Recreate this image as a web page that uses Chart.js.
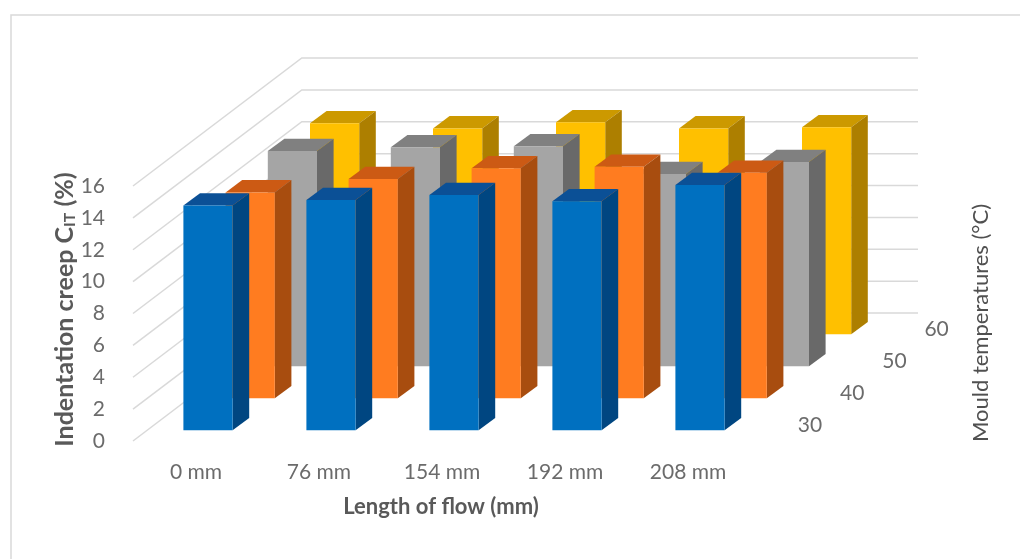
<!DOCTYPE html>
<html>
<head>
<meta charset="utf-8">
<title>Indentation creep</title>
<script src="https://cdn.jsdelivr.net/npm/chart.js@4"></script>
<style>
	html, body { margin: 0; padding: 0; background: #fff; }
	canvas { display: block; }
</style>
</head>
<body>
<canvas id="myChart" width="1020" height="559"></canvas>
<script>
const flowLengths = ["0 mm", "76 mm", "154 mm", "192 mm", "208 mm"];
const mouldTemps = ["30", "40", "50", "60"];
const creep30 = [14.1, 14.45, 14.76, 14.37, 15.39];
const creep40 = [12.92, 13.76, 14.43, 14.53, 14.15];
const creep50 = [13.51, 13.74, 13.8, 12.07, 12.82];
const creep60 = [13.24, 12.92, 13.3, 12.92, 12.99];

const faceColors = ["#0070c0", "#ff7c20", "#a5a5a5", "#ffc000"];
const topColors = ["#0b5096", "#cc5a14", "#808080", "#cc9900"];
const sideColors = ["#004681", "#a84d0f", "#696969", "#ad7f00"];

// fake 3D: every series sits one step further back, bars get a top and a side face
const depthX = 42.2;
const depthY = -32;
const baseLift = -10.7;
const barDepthX = 16.6;
const barDepthY = -12.3;
const wallLeft = 133;
const wallRight = 918;

const font = "Lato";
const gridColor = "#d9d9d9";

function seriesShift(i) {
	return { x: i * depthX, y: baseLift + i * depthY };
}

const pseudo3d = {
	id: "pseudo3d",
	beforeDraw(chart) {
		const ctx = chart.ctx;
		ctx.save();
		ctx.fillStyle = "#fff";
		ctx.fillRect(0, 0, chart.width, chart.height);
		// frame around the figure, only top and left are visible
		ctx.strokeStyle = gridColor;
		ctx.lineWidth = 1.5;
		ctx.beginPath();
		ctx.moveTo(11, chart.height);
		ctx.lineTo(11, 15);
		ctx.lineTo(chart.width, 15);
		ctx.stroke();
		ctx.restore();
	},
	beforeDatasetsDraw(chart) {
		// grid runs back along the left wall and then across the back wall
		const ctx = chart.ctx;
		const yScale = chart.scales.y;
		const backX = wallLeft + mouldTemps.length * depthX;
		const backY = mouldTemps.length * depthY;
		ctx.save();
		ctx.strokeStyle = gridColor;
		ctx.lineWidth = 1.5;
		yScale.ticks.forEach((tick) => {
			const y = yScale.getPixelForValue(tick.value);
			ctx.beginPath();
			ctx.moveTo(wallLeft, y);
			ctx.lineTo(backX, y + backY);
			ctx.lineTo(wallRight, y + backY);
			ctx.stroke();
		});
		ctx.restore();
	},
	beforeDatasetDraw(chart, args) {
		const ctx = chart.ctx;
		const i = args.index;
		const shift = seriesShift(i);
		ctx.save();
		ctx.translate(shift.x, shift.y);
		args.meta.data.forEach((bar) => {
			const p = bar.getProps(["x", "y", "base", "width"], true);
			const l = p.x - p.width / 2;
			const r = p.x + p.width / 2;
			ctx.fillStyle = topColors[i];
			ctx.beginPath();
			ctx.moveTo(l, p.y);
			ctx.lineTo(l + barDepthX, p.y + barDepthY);
			ctx.lineTo(r + barDepthX, p.y + barDepthY);
			ctx.lineTo(r, p.y);
			ctx.closePath();
			ctx.fill();
			ctx.fillStyle = sideColors[i];
			ctx.beginPath();
			ctx.moveTo(r, p.y);
			ctx.lineTo(r + barDepthX, p.y + barDepthY);
			ctx.lineTo(r + barDepthX, p.base + barDepthY);
			ctx.lineTo(r, p.base);
			ctx.closePath();
			ctx.fill();
		});
	},
	afterDatasetDraw(chart) {
		chart.ctx.restore();
	},
	afterDraw(chart) {
		const ctx = chart.ctx;
		ctx.save();
		ctx.textBaseline = "middle";

		// depth axis labels
		ctx.fillStyle = "#6b6b6b";
		ctx.textAlign = "center";
		ctx.font = `21px ${font}`;
		mouldTemps.forEach((t, i) => {
			ctx.fillText(t, 810 + i * depthX, 425 + i * depthY);
		});

		// x title
		ctx.fillStyle = "#595959";
		ctx.font = `bold 22px ${font}`;
		ctx.fillText("Length of flow (mm)", 441, 507);

		// right title
		ctx.save();
		ctx.translate(981, 323);
		ctx.rotate(-Math.PI / 2);
		ctx.fillStyle = "#505050";
		ctx.font = `22px ${font}`;
		ctx.fillText("Mould temperatures (°C)", 0, 0);
		ctx.restore();

		// y title, canvas text has no subscript so it goes piece by piece
		ctx.save();
		ctx.translate(65, 309.5);
		ctx.rotate(-Math.PI / 2);
		ctx.textAlign = "left";
		ctx.fillStyle = "#595959";
		const parts = [
			{ text: "Indentation creep C", size: 25, drop: 0 },
			{ text: "IT", size: 16, drop: 5 },
			{ text: " (%)", size: 25, drop: 0 },
		];
		let total = 0;
		parts.forEach((part) => {
			ctx.font = `bold ${part.size}px ${font}`;
			total += ctx.measureText(part.text).width;
		});
		let pos = -total / 2;
		parts.forEach((part) => {
			ctx.font = `bold ${part.size}px ${font}`;
			ctx.fillText(part.text, pos, part.drop);
			pos += ctx.measureText(part.text).width;
		});
		ctx.restore();
		ctx.restore();
	},
};

const seriesValues = [creep30, creep40, creep50, creep60];

new Chart(document.getElementById("myChart"), {
	type: "bar",
	data: {
		labels: flowLengths,
		datasets: mouldTemps.map((t, i) => ({
			label: t,
			data: seriesValues[i],
			backgroundColor: faceColors[i],
			clip: false,
		})),
	},
	options: {
		responsive: false,
		animation: false,
		barPercentage: 0.4,
		categoryPercentage: 1,
		layout: { padding: { left: 0, top: 186, right: 258.5, bottom: 0 } },
		plugins: { legend: { display: false }, tooltip: { enabled: false } },
		scales: {
			x: {
				stacked: true,
				afterFit: (scale) => { scale.height = 118; },
				grid: { display: false },
				border: { display: false },
				ticks: {
					color: "#6b6b6b",
					font: { family: font, size: 21 },
					padding: 11,
					labelOffset: -12,
					maxRotation: 0,
				},
			},
			y: {
				stacked: false,
				min: 0,
				max: 16,
				afterFit: (scale) => { scale.width = 146.5; },
				grid: { display: false },
				border: { display: false },
				ticks: {
					stepSize: 2,
					color: "#6b6b6b",
					font: { family: font, size: 21 },
					padding: 33.5,
				},
			},
		},
	},
	plugins: [pseudo3d],
});
</script>
</body>
</html>
